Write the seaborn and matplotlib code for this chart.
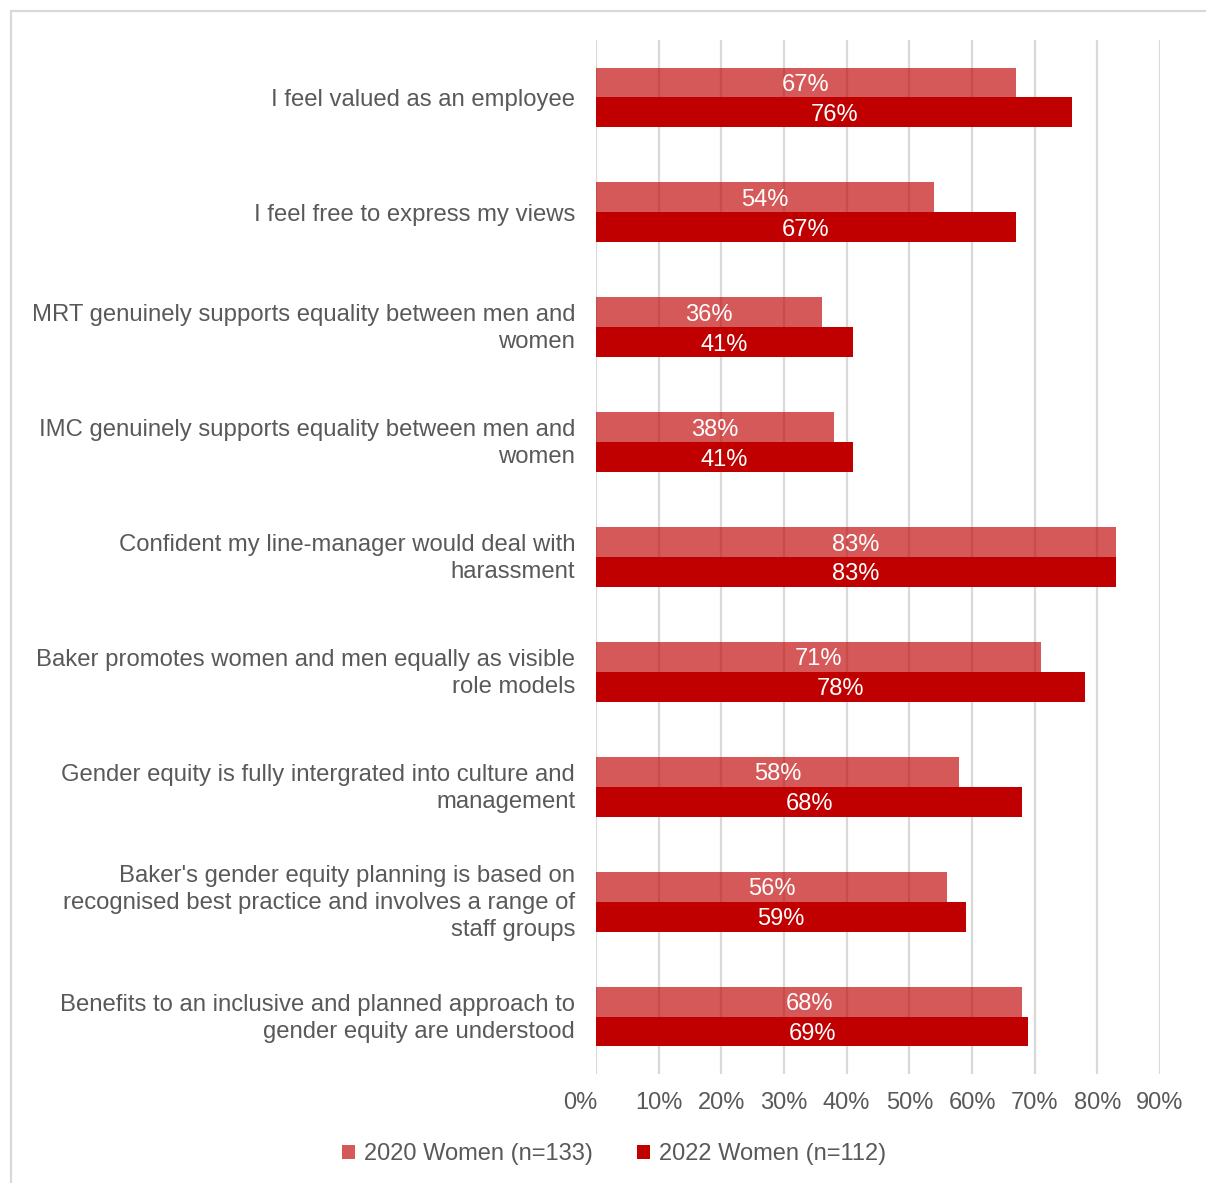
import matplotlib
matplotlib.use("Agg")
import matplotlib.pyplot as plt
import matplotlib.transforms as mtransforms
from matplotlib.patches import Rectangle, Patch
import seaborn as sns
import pandas as pd

categories = [
    "I feel valued as an employee",
    "I feel free to express my views",
    "MRT genuinely supports equality between men and\nwomen",
    "IMC genuinely supports equality between men and\nwomen",
    "Confident my line-manager would deal with\nharassment",
    "Baker promotes women and men equally as visible\nrole models",
    "Gender equity is fully intergrated into culture and\nmanagement",
    "Baker's gender equity planning is based on\nrecognised best practice and involves a range of\nstaff groups",
    "Benefits to an inclusive and planned approach to\ngender equity are understood",
]
series = ["2020 Women (n=133)", "2022 Women (n=112)"]
women_2020 = [67, 54, 36, 38, 83, 71, 58, 56, 68]
women_2022 = [76, 67, 41, 41, 83, 78, 68, 59, 69]
x_ticks = [0, 10, 20, 30, 40, 50, 60, 70, 80, 90]
x_tick_labels = ["0%", "10%", "20%", "30%", "40%", "50%", "60%", "70%", "80%", "90%"]

df = pd.DataFrame({
    "category": categories * 2,
    "series": [series[0]] * len(categories) + [series[1]] * len(categories),
    "value": women_2020 + women_2022,
})

sns.set_theme(style="white")
plt.rcParams["font.family"] = ["Liberation Sans", "DejaVu Sans"]

text_color = "#595959"
dark_red = "#C00000"

W, H = 1206, 1183
fig = plt.figure(figsize=(W / 100, H / 100), dpi=100)
ax = fig.add_axes([596 / W, 1 - 1074 / H, (1160 - 596) / W, (1074 - 40) / H])

sns.barplot(
    data=df, y="category", x="value", hue="series", orient="h",
    palette=[dark_red, dark_red], width=0.52, gap=0, dodge=True,
    order=categories, hue_order=series, ax=ax, legend=False,
    saturation=1, linewidth=0,
)

# lighter, see-through 2020 bars
for bar in ax.containers[0]:
    bar.set_alpha(0.65)

# value labels centred inside each bar
for cont, vals in zip(ax.containers, [women_2020, women_2022]):
    for bar, v in zip(cont, vals):
        ax.text(v / 2, bar.get_y() + bar.get_height() / 2, f"{v}%",
                ha="center", va="center_baseline", color="white", fontsize=17)

ax.set_xlim(0, 90)
ax.set_ylim(len(categories) - 0.5, -0.5)
ax.set_xticks(x_ticks)
ax.set_xticklabels(x_tick_labels)
ax.tick_params(axis="x", length=0, pad=13, labelsize=17, labelcolor=text_color)
ax.tick_params(axis="y", length=0, pad=15, labelsize=17.2, labelcolor=text_color)
for lbl in ax.get_yticklabels():
    lbl.set_linespacing(1.3)
    if "\n" in lbl.get_text():
        lbl.set_transform(lbl.get_transform() +
                          mtransforms.ScaledTranslation(0, 3.5 / 100, fig.dpi_scale_trans))
ax.set_xlabel("")
ax.set_ylabel("")
ax.xaxis.grid(True, color="#D9D9D9", linewidth=1.6)
ax.yaxis.grid(False)
ax.set_axisbelow(True)
for s in ax.spines.values():
    s.set_visible(False)

# first tick label sits a little left of its gridline
lbl0 = ax.get_xticklabels()[0]
lbl0.set_transform(lbl0.get_transform() + mtransforms.ScaledTranslation(-16 / 100, 0, fig.dpi_scale_trans))

# legend
handles = [Patch(facecolor=dark_red, alpha=0.65, linewidth=0),
           Patch(facecolor=dark_red, linewidth=0)]
fig.legend(handles, series, loc="center", bbox_to_anchor=(614 / W, 1 - 1154 / H),
           ncol=2, frameon=False, fontsize=17, labelcolor=text_color,
           handlelength=0.55, handleheight=0.55, handletextpad=0.35, columnspacing=1.9)

# outer chart frame
fig.patches.append(Rectangle((10.5 / W, -0.1), 1.2, 1 - 10.5 / H + 0.1,
                             transform=fig.transFigure, fill=False,
                             edgecolor="#D9D9D9", linewidth=1.6))

fig.savefig("out.png", dpi=100)
